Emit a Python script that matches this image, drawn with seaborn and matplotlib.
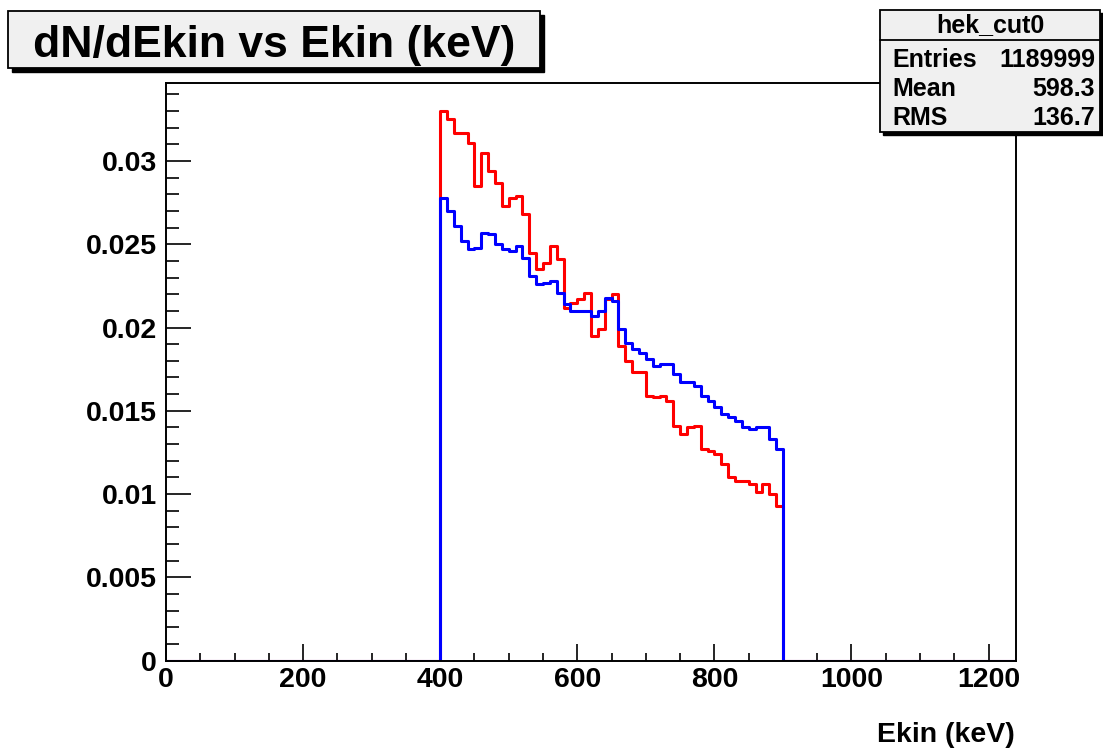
import numpy as np
import pandas as pd
import matplotlib
matplotlib.use("Agg")
import matplotlib.pyplot as plt
import seaborn as sb
from matplotlib.patches import Rectangle
from matplotlib.ticker import MultipleLocator, FuncFormatter

# histogram binning (keV): 0 - 1240, 10 keV bins, signal between 400 and 900
bin_width = 10
x_max = 1240
first_bin = 40

# bin contents, 400 - 900 keV
red_counts = [0.0330, 0.0325, 0.0317, 0.03165, 0.0311, 0.0285, 0.0305, 0.0294, 0.0287, 0.0273,
              0.0278, 0.0279, 0.0268, 0.0245, 0.0235, 0.0239, 0.0249, 0.0241, 0.0212, 0.0215,
              0.0217, 0.0221, 0.0195, 0.0199, 0.0217, 0.0220, 0.0189, 0.0180, 0.0173, 0.0173,
              0.0159, 0.0158, 0.0159, 0.0156, 0.0141, 0.0136, 0.0140, 0.0141, 0.0127, 0.0126,
              0.0124, 0.0118, 0.0110, 0.0108, 0.0108, 0.0106, 0.0101, 0.0106, 0.0100, 0.0093]
blue_counts = [0.0278, 0.0270, 0.0261, 0.0252, 0.0247, 0.0248, 0.0257, 0.0256, 0.0250, 0.0247,
               0.0246, 0.0249, 0.0242, 0.0231, 0.0226, 0.0227, 0.0228, 0.0221, 0.0214, 0.0210,
               0.0210, 0.0210, 0.0207, 0.0210, 0.0218, 0.0216, 0.0199, 0.0191, 0.0187, 0.0185,
               0.0181, 0.0177, 0.0178, 0.0178, 0.0172, 0.0167, 0.0167, 0.0165, 0.0159, 0.0156,
               0.0152, 0.0148, 0.0146, 0.0144, 0.0140, 0.0139, 0.0140, 0.0140, 0.0133, 0.0127]

stats_name = "hek_cut0"
stats_rows = [("Entries", "1189999"), ("Mean", "598.3"), ("RMS", "136.7")]

W, H = 1103, 750


def fx(x):
    return x / W


def fy(y):
    return 1 - y / H


def full_hist(counts):
    # put the counts into the full 0-1240 range, zero elsewhere
    edges = np.arange(0, x_max + bin_width, bin_width)
    h = np.zeros(len(edges) - 1)
    h[first_bin:first_bin + len(counts)] = counts
    return pd.DataFrame({"edge": edges, "val": np.append(h, h[-1])})


def box(fig, x0, y0, x1, y1, shadow):
    fig.add_artist(Rectangle((fx(x0 + shadow), fy(y1 + shadow)), (x1 - x0) / W, (y1 - y0) / H,
                             transform=fig.transFigure, facecolor="black", edgecolor="black",
                             zorder=5))
    fig.add_artist(Rectangle((fx(x0), fy(y1)), (x1 - x0) / W, (y1 - y0) / H,
                             transform=fig.transFigure, facecolor="#f0f0f0", edgecolor="black",
                             linewidth=1.3, zorder=6))


def main():
    sb.set_style("white")
    plt.rcParams['font.family'] = ['Liberation Sans', 'DejaVu Sans']
    plt.rcParams['font.weight'] = 'bold'
    plt.rcParams['text.color'] = 'black'
    plt.rcParams['xtick.color'] = 'black'
    plt.rcParams['ytick.color'] = 'black'
    plt.rcParams['axes.labelcolor'] = 'black'

    fig = plt.figure(figsize=(W / 100, H / 100), dpi=100)
    ax = fig.add_axes([fx(166), fy(660.7), (1016 - 166) / W, (660.7 - 83.3) / H])

    red = full_hist(red_counts)
    blue = full_hist(blue_counts)
    sb.lineplot(data=red, x="edge", y="val", drawstyle="steps-post", color="#ff0000",
                linewidth=2.2, ax=ax)
    sb.lineplot(data=blue, x="edge", y="val", drawstyle="steps-post", color="#0000ff",
                linewidth=2.2, ax=ax)

    ax.set_xlim(0, x_max)
    ax.set_ylim(0, 0.03466)
    ax.set_xlabel("")
    ax.set_ylabel("")

    for s in ax.spines.values():
        s.set_color("black")
        s.set_linewidth(1.4)

    ax.xaxis.set_major_locator(MultipleLocator(200))
    ax.xaxis.set_minor_locator(MultipleLocator(50))
    ax.yaxis.set_major_locator(MultipleLocator(0.005))
    ax.yaxis.set_minor_locator(MultipleLocator(0.001))
    ax.yaxis.set_major_formatter(FuncFormatter(lambda v, p: "%g" % round(v, 4)))

    ax.tick_params(axis="x", which="major", direction="in", length=12, width=1.2,
                   labelsize=20.5, pad=4.5, bottom=True, top=False, colors="black")
    ax.tick_params(axis="x", which="minor", direction="in", length=5.5, width=1.2,
                   bottom=True, top=False, colors="black")
    ax.tick_params(axis="y", which="major", direction="in", length=18, width=1.2,
                   labelsize=20.5, pad=6.5, left=True, right=False, colors="black")
    ax.tick_params(axis="y", which="minor", direction="in", length=9, width=1.2,
                   left=True, right=False, colors="black")
    for lab in ax.get_xticklabels() + ax.get_yticklabels():
        lab.set_fontweight("bold")

    fig.text(fx(1015), fy(741.7), "Ekin (keV)", ha="right", va="baseline",
             fontsize=20.5, fontweight="bold", color="black")

    # title box
    box(fig, 8, 11, 540, 68, 4)
    fig.text(fx(274), fy(57), "dN/dEkin vs Ekin (keV)", ha="center", va="baseline",
             fontsize=32, fontweight="bold", color="black", zorder=7)

    # stats box
    box(fig, 880, 10, 1100, 132, 3)
    fig.add_artist(plt.Line2D([fx(880), fx(1100)], [fy(40), fy(40)], transform=fig.transFigure,
                              color="black", linewidth=1.3, zorder=7))
    fig.text(fx(990), fy(32), stats_name, ha="center", va="baseline",
             fontsize=18, fontweight="bold", color="black", zorder=7)
    row_y = [67, 96, 125]
    for (name, val), yb in zip(stats_rows, row_y):
        fig.text(fx(892), fy(yb), name, ha="left", va="baseline",
                 fontsize=18, fontweight="bold", color="black", zorder=7)
        fig.text(fx(1095), fy(yb), val, ha="right", va="baseline",
                 fontsize=18, fontweight="bold", color="black", zorder=7)

    fig.savefig("out.png", dpi=100)


if __name__ == "__main__":
    main()
